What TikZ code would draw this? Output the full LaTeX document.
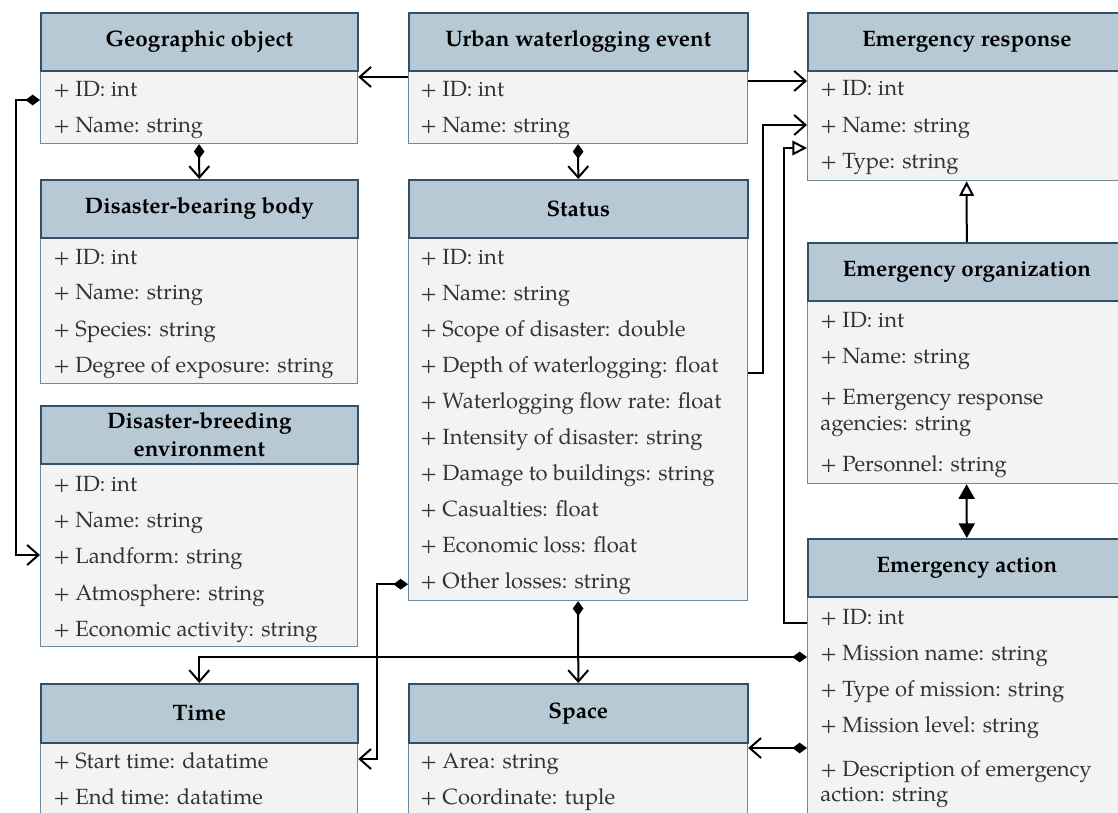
\documentclass[tikz,border=0pt]{standalone}
\usepackage{fontspec}
\setmainfont{texgyrepagella}[Extension=.otf, UprightFont=*-regular, BoldFont=*-bold, ItalicFont=*-italic, BoldItalicFont=*-bolditalic]
\usetikzlibrary{arrows.meta,calc}

\definecolor{hdrfill}{HTML}{B8C9D6}
\definecolor{hdrline}{HTML}{33506A}
\definecolor{bodyfill}{HTML}{F3F3F3}
\definecolor{bodyline}{HTML}{6E889C}
\definecolor{rowtext}{HTML}{333333}

\tikzset{
  head/.style={draw=hdrline, fill=hdrfill, line width=1.2pt, anchor=north west,
    inner sep=0pt, font=\fontsize{16.8}{21}\selectfont\bfseries, text=black, align=center},
  body/.style={draw=bodyline, fill=bodyfill, line width=0.9pt, anchor=north west, inner sep=0pt},
  row/.style={anchor=base west, inner sep=0pt, font=\fontsize{16.5}{19}\selectfont, text=rowtext},
  link/.style={line width=1.5pt, black},
  barb/.style={-{Straight Barb[length=8.5pt,width=15pt]}},
  dbarb/.style={{Diamond[length=11pt,width=8pt]}-{Straight Barb[length=8.5pt,width=15pt]}},
  gen/.style={-{Triangle[open,length=11pt,width=11pt]}},
  both/.style={{Triangle[length=11pt,width=12pt]}-{Triangle[length=11pt,width=12pt]}}
}

% class box: id, left x, top y, width, header height, body height, title
\newcommand\umlclass[7]{%
  \node[body, minimum width=#4*0.75pt, minimum height=#6*0.75pt] (#1b) at (#2,#3+#5) {};
  \node[head, minimum width=#4*0.75pt, minimum height=#5*0.75pt] (#1h) at (#2,#3) {#7};}

\begin{document}
\begin{tikzpicture}[x=0.75pt, y=-0.75pt]
\useasboundingbox (0,0) rectangle (1118,813);

% left column
\umlclass{geo}{40}{12}{317}{58}{73}{Geographic object}
\umlclass{dbb}{40}{179}{317}{58}{146}{Disaster-bearing body}
\umlclass{dbe}{40}{405}{317}{58}{183}{Disaster-breeding\\environment}
\umlclass{time}{40}{683}{317}{59}{90}{Time}

% middle column
\umlclass{ue}{408}{12}{339}{58}{73}{Urban waterlogging event}
\umlclass{st}{408}{179}{339}{58}{363}{Status}
\umlclass{space}{408}{683}{339}{59}{90}{Space}

% right column
\umlclass{er}{807}{12}{318}{58}{110}{Emergency response}
\umlclass{eo}{807}{242}{318}{58}{183}{Emergency organization}
\umlclass{ea}{807}{538}{318}{58}{230}{Emergency action}

% attributes
\node[row] (geo1) at (53,97) {+ ID: int};
\node[row] (geo2) at (53,133) {+ Name: string};

\node[row] (dbb1) at (53,264) {+ ID: int};
\node[row] (dbb2) at (53,300) {+ Name: string};
\node[row] (dbb3) at (53,336) {+ Species: string};
\node[row] (dbb4) at (53,372) {+ Degree of exposure: string};

\node[row] (dbe1) at (53,491) {+ ID: int};
\node[row] (dbe2) at (53,527) {+ Name: string};
\node[row] (dbe3) at (53,563) {+ Landform: string};
\node[row] (dbe4) at (53,600) {+ Atmosphere: string};
\node[row] (dbe5) at (53,636) {+ Economic activity: string};

\node[row] (time1) at (53,768) {+ Start time: datatime};
\node[row] (time2) at (53,804) {+ End time: datatime};

\node[row] (ue1) at (420,97) {+ ID: int};
\node[row] (ue2) at (420,133) {+ Name: string};

\foreach \t [count=\i] in {+ ID: int, + Name: string, + Scope of disaster: double,
    + Depth of waterlogging: float, + Waterlogging flow rate: float,
    + Intensity of disaster: string, + Damage to buildings: string,
    + Casualties: float, + Economic loss: float, + Other losses: string}
  \node[row] (st\i) at (420,{264+(\i-1)*36.1}) {\t};

\node[row] (space1) at (420,768) {+ Area: string};
\node[row] (space2) at (420,804) {+ Coordinate: tuple};

\node[row] (er1) at (820,96) {+ ID: int};
\node[row] (er2) at (820,133) {+ Name: string};
\node[row] (er3) at (820,169) {+ Type: string};

\node[row] (eo1) at (820,327) {+ ID: int};
\node[row] (eo2) at (820,363) {+ Name: string};
\node[row] (eo3) at (820,404) {+ Emergency response};
\node[row] (eo3b) at (820,430) {agencies: string};
\node[row] (eo4) at (820,471) {+ Personnel: string};

\node[row] (ea1) at (820,624) {+ ID: int};
\node[row] (ea2) at (820,660) {+ Mission name: string};
\node[row] (ea3) at (820,696) {+ Type of mission: string};
\node[row] (ea4) at (820,732) {+ Mission level: string};
\node[row] (ea5) at (820,776) {+ Description of emergency};
\node[row] (ea5b) at (820,801) {action: string};

% relations
\draw[link, barb] ($(ueb.north west)+(0,7)$) -- ($(geob.north east)+(0,7)$);
\draw[link, barb] ($(ueb.north east)+(0,11)$) -- ($(erb.north west)+(0,11)$);
\draw[link, dbarb] (geob.south) -- (dbbh.north);
\draw[link, dbarb] (ueb.south) -- (sth.north);
\draw[link, dbarb] ($(geob.north west)+(0,30)$) -- ++(-24,0) |- ($(dbeb.north west)+(0,92)$);
\draw[link, barb] ($(stb.north east)+(0,136)$) -- ++(15,0) |- ($(erb.north west)+(0,55)$);
\draw[link, gen] ($(eab.north west)+(0,27)$) -- ++(-23,0) |- ($(erb.north west)+(0,78)$);
\draw[link, gen] (eoh.north) -- (erb.south);
\draw[link, both] (eob.south) -- (eah.north);
\draw[link, dbarb] (stb.south) -- (spaceh.north);
\draw[link, dbarb] ($(stb.south west)+(0,-17)$) -- ++(-31,0) |- ($(timeb.north east)+(0,17)$);
\draw[link, dbarb] ($(eab.north west)+(0,61)$) -| (timeh.north);
\draw[link, dbarb] ($(eab.north west)+(0,152)$) -- ($(spaceb.north east)+(0,6)$);
\end{tikzpicture}
\end{document}
